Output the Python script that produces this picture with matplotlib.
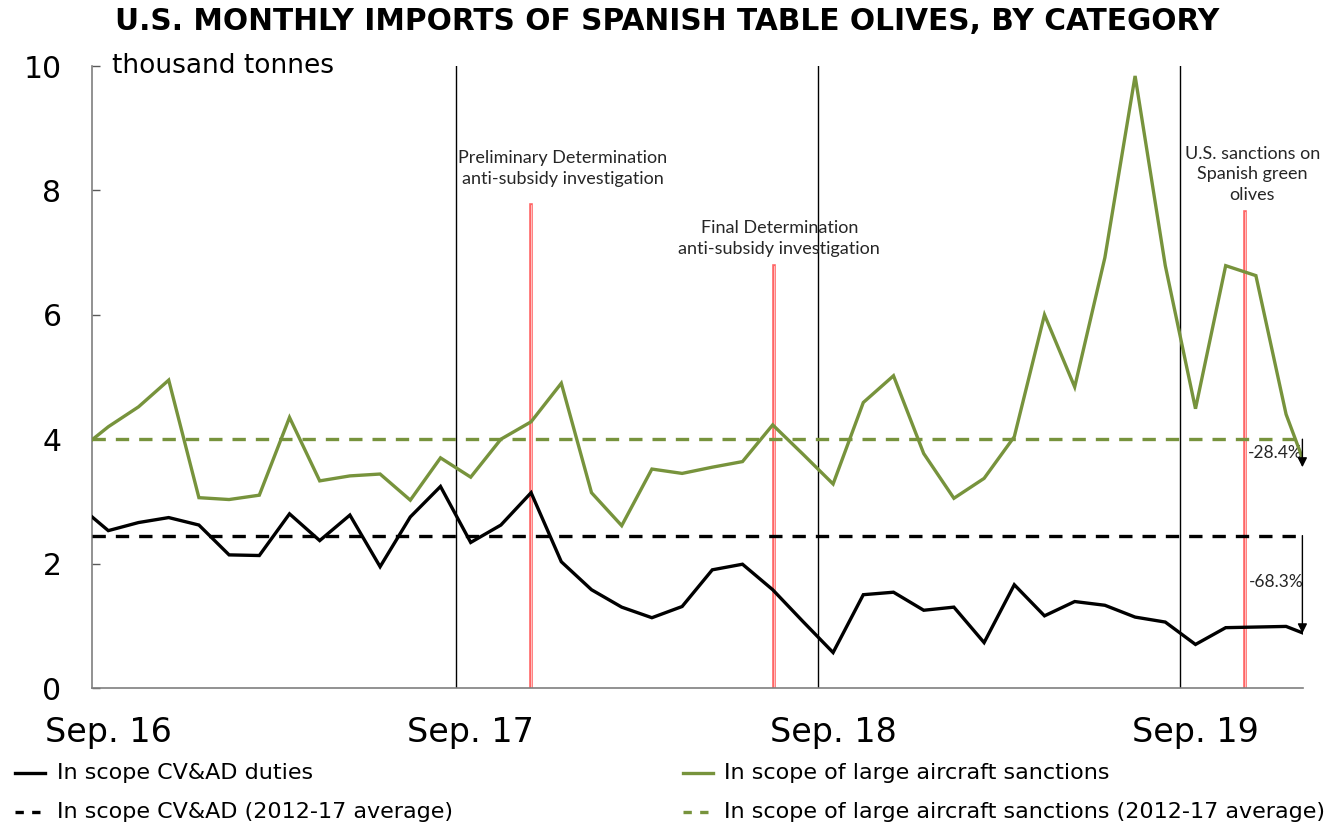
import matplotlib
matplotlib.use('Agg')
import matplotlib.pyplot as plt
from matplotlib.lines import Line2D
import numpy as np
import pandas as pd

# monthly imports, thousand tonnes, Aug 2016 .. Jan 2020
months = pd.date_range('2016-08-01', '2020-01-01', freq='MS')
cvad = [2.94, 2.53, 2.66, 2.74, 2.62, 2.14, 2.13, 2.80, 2.37, 2.78, 1.95, 2.75,
        3.24, 2.34, 2.62, 3.14, 2.03, 1.58, 1.30, 1.13, 1.31, 1.90, 1.99, 1.58,
        1.07, 0.57, 1.50, 1.54, 1.25, 1.30, 0.73, 1.66, 1.16, 1.39, 1.33, 1.14,
        1.06, 0.70, 0.97, 0.98, 0.99, 0.80]
aircraft = [3.81, 4.20, 4.52, 4.95, 3.06, 3.03, 3.10, 4.35, 3.33, 3.41, 3.44, 3.02,
            3.70, 3.39, 4.00, 4.28, 4.90, 3.14, 2.61, 3.52, 3.45, 3.55, 3.64, 4.23,
            3.76, 3.28, 4.59, 5.02, 3.77, 3.05, 3.37, 4.04, 6.00, 4.84, 6.92, 9.84,
            6.79, 4.49, 6.79, 6.63, 4.40, 3.10]
cvad_avg = 2.45
aircraft_avg = 4.00

event_pos = [14.0, 22.05, 37.65]      # months after Sep 2016
event_top = [7.77, 6.78, 7.65]
event_txt = ['Preliminary Determination\nanti-subsidy investigation',
             'Final Determination\nanti-subsidy investigation',
             'U.S. sanctions on\nSpanish green\nolives']
event_txt_xy = [(15.05, 8.35), (22.22, 7.23), (37.88, 8.26)]

pct_aircraft = '-28.4%'
pct_cvad = '-68.3%'

green = '#77933C'
ann_font = ['Lato', 'DejaVu Sans']

x = np.arange(len(months)) - 1          # Sep 2016 -> 0
xmin, xmax = -0.54, 39.56

fig = plt.figure(figsize=(13.35, 8.27), dpi=100)
ax = fig.add_axes([92/1335, 1-688/827, 1211/1335, 622/827])

ax.plot(x, cvad, color='k', lw=2.4, zorder=4, solid_joinstyle='miter')
ax.plot(x, aircraft, color=green, lw=2.4, zorder=4, solid_joinstyle='miter')
ax.plot([xmin, xmax], [cvad_avg]*2, color='k', lw=2.4, dashes=(4, 3), zorder=3)
ax.plot([xmin, xmax], [aircraft_avg]*2, color=green, lw=2.4, dashes=(4, 3), zorder=3)

# September separators
sep_idx = [i for i, m in enumerate(months) if m.month == 9]
for i in sep_idx[1:]:
    ax.axvline(x[i] - 0.5, ymin=0, ymax=1, color='k', lw=1, zorder=2)

for p, t in zip(event_pos, event_top):
    ax.plot([p, p], [0, t], color='#ff4a4a', lw=2.6, alpha=0.85, zorder=1)
    ax.plot([p, p], [0, t], color='#ffd0d0', lw=0.6, zorder=1)
for (tx, ty), s in zip(event_txt_xy, event_txt):
    ax.text(tx, ty, s, ha='center', va='center', fontsize=13, family=ann_font,
            color='#262626', linespacing=1.35)

# change arrows at the right edge
ax.annotate('', xy=(39.54, 3.55), xytext=(39.54, aircraft_avg),
            arrowprops=dict(arrowstyle='-|>', color='k', lw=1, mutation_scale=14,
                            shrinkA=0, shrinkB=0), zorder=5)
ax.annotate('', xy=(39.54, 0.88), xytext=(39.54, cvad_avg),
            arrowprops=dict(arrowstyle='-|>', color='k', lw=1, mutation_scale=14,
                            shrinkA=0, shrinkB=0), zorder=5)
ax.text(38.65, 3.78, pct_aircraft, ha='center', va='center', fontsize=12.5,
        family=ann_font, color='#262626')
ax.text(38.68, 1.71, pct_cvad, ha='center', va='center', fontsize=12.5,
        family=ann_font, color='#262626')

ax.set_xlim(xmin, xmax)
ax.set_ylim(0, 10)
ax.set_yticks([0, 2, 4, 6, 8, 10])
ax.set_xticks([x[i] for i in sep_idx])
ax.set_xticklabels([months[i].strftime('Sep. %y') for i in sep_idx])
ax.tick_params(axis='y', direction='in', length=6, width=1, color='#595959',
               labelsize=21.5, pad=22)
ax.tick_params(axis='x', length=0, labelsize=24, pad=20)
for s in ['top', 'right']:
    ax.spines[s].set_visible(False)
for s in ['left', 'bottom']:
    ax.spines[s].set_color('#7f7f7f')
    ax.spines[s].set_linewidth(1.2)

ax.text(20/1211, 1.0, 'thousand tonnes', transform=ax.transAxes, fontsize=19,
        ha='left', va='center')

fig.text(0.5, 1-21/827, 'U.S. MONTHLY IMPORTS OF SPANISH TABLE OLIVES, BY CATEGORY',
         ha='center', va='center', fontsize=21.3, fontweight='bold')

# legend
leg = [((15, 45, 57), 773, 'k', None, 'In scope CV&AD duties'),
       ((15, 45, 57), 812, 'k', (2.5, 2.5), 'In scope CV&AD (2012-17 average)'),
       ((683, 713, 724), 773, green, None, 'In scope of large aircraft sanctions'),
       ((683, 713, 724), 812, green, (2.5, 2.5),
        'In scope of large aircraft sanctions (2012-17 average)')]
for (x0, x1, xt), yp, c, d, lab in leg:
    yy = 1 - yp/827
    ln = Line2D([x0/1335, x1/1335], [yy, yy], color=c, lw=2.4, transform=fig.transFigure)
    if d:
        ln.set_dashes(d)
    fig.add_artist(ln)
    fig.text(xt/1335, yy, lab, fontsize=16, ha='left', va='center')

fig.savefig('out.png', dpi=100)
